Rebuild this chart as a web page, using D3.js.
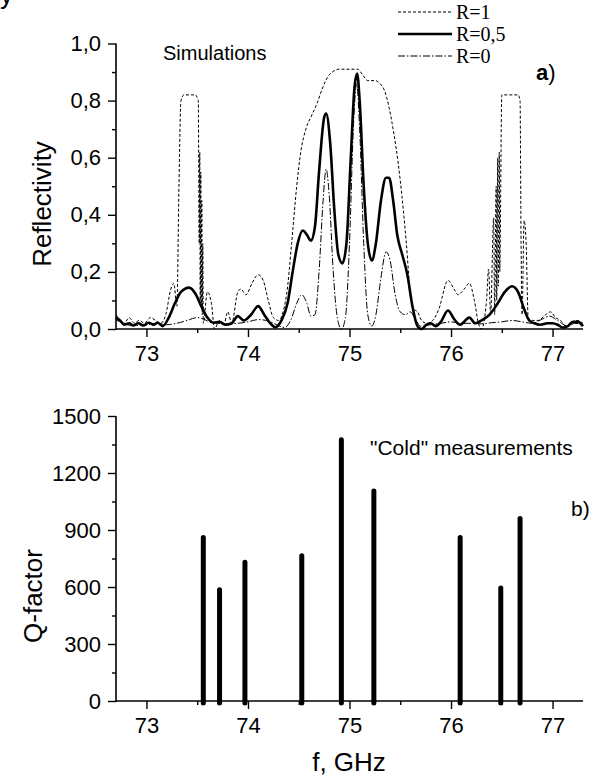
<!DOCTYPE html>
<html>
<head>
<meta charset="utf-8">
<script src="https://cdn.jsdelivr.net/npm/d3@7"></script>
<style>
  body { margin: 0; background: #fff; }
  text { font-family: "Liberation Sans", Arial, sans-serif; fill: #000; }
  .legend text { font-family: "Liberation Serif", "Times New Roman", serif; }
</style>
</head>
<body>
<svg id="chart"></svg>
<script>
// simulated reflectivity, [f GHz, R]
const r1 = [
  [72.70,0.05],[72.74,0.03],[72.78,0.02],[72.83,0.04],[72.88,0.02],[72.93,0.03],[72.98,0.02],
  [73.04,0.04],[73.09,0.03],[73.14,0.02],[73.19,0.05],[73.24,0.14],[73.27,0.16],[73.30,0.08],
  [73.32,0.5],[73.34,0.8],[73.37,0.82],[73.48,0.82],[73.51,0.8],[73.52,0.3],[73.525,0.62],
  [73.53,0.1],[73.535,0.55],[73.54,0.08],[73.545,0.45],[73.55,0.05],[73.555,0.3],[73.56,0.02],
  [73.6,0.13],[73.64,0.09],[73.67,0.0],[73.72,0.03],[73.76,0.01],[73.8,0.06],[73.84,0.02],
  [73.9,0.13],[73.93,0.14],[73.98,0.12],[74.04,0.16],[74.1,0.19],[74.15,0.17],[74.2,0.1],
  [74.25,0.04],[74.3,0.03],[74.38,0.12],[74.43,0.3],[74.48,0.5],[74.52,0.62],[74.57,0.7],
  [74.63,0.75],[74.68,0.79],[74.73,0.84],[74.8,0.89],[74.9,0.91],[75.0,0.91],[75.08,0.91],
  [75.13,0.89],[75.18,0.87],[75.25,0.87],[75.3,0.86],[75.35,0.83],[75.42,0.72],[75.5,0.52],
  [75.56,0.3],[75.6,0.12],[75.63,0.07],[75.67,0.06],[75.71,0.03],[75.76,0.02],[75.82,0.03],
  [75.88,0.07],[75.97,0.17],[76.03,0.14],[76.07,0.12],[76.13,0.14],[76.18,0.16],[76.23,0.1],
  [76.27,0.02],[76.3,0.0],[76.35,0.1],[76.37,0.21],[76.39,0.05],[76.42,0.39],[76.43,0.05],
  [76.445,0.5],[76.45,0.1],[76.46,0.6],[76.465,0.15],[76.475,0.62],[76.48,0.2],[76.5,0.82],
  [76.52,0.82],[76.66,0.82],[76.68,0.8],[76.69,0.3],[76.7,0.05],[76.72,0.38],[76.74,0.3],
  [76.76,0.04],[76.8,0.03],[76.86,0.03],[76.93,0.05],[76.98,0.06],[77.03,0.04],[77.08,0.03],
  [77.13,0.01],[77.18,0.02],[77.24,0.03],[77.3,0.02]
];
const r05 = [
  [72.70,0.04],[72.74,0.03],[72.78,0.015],[72.83,0.02],[72.87,0.012],[72.92,0.02],[72.97,0.012],
  [73.02,0.022],[73.07,0.015],[73.11,0.022],[73.16,0.01],[73.22,0.04],[73.28,0.09],[73.34,0.13],
  [73.42,0.145],[73.48,0.125],[73.54,0.08],[73.6,0.04],[73.66,0.022],[73.72,0.025],[73.78,0.015],
  [73.84,0.02],[73.9,0.045],[73.96,0.03],[74.03,0.05],[74.1,0.08],[74.16,0.05],[74.22,0.02],
  [74.27,0.006],[74.33,0.03],[74.39,0.09],[74.44,0.2],[74.49,0.3],[74.54,0.345],[74.58,0.33],
  [74.62,0.31],[74.66,0.36],[74.7,0.55],[74.75,0.74],[74.77,0.755],[74.81,0.65],[74.85,0.42],
  [74.89,0.26],[74.93,0.23],[74.97,0.3],[75.01,0.58],[75.05,0.85],[75.075,0.895],[75.1,0.8],
  [75.14,0.5],[75.18,0.3],[75.22,0.24],[75.26,0.3],[75.31,0.45],[75.36,0.53],[75.39,0.53],
  [75.43,0.45],[75.47,0.33],[75.52,0.26],[75.57,0.19],[75.62,0.08],[75.67,0.01],[75.71,0.0],
  [75.76,0.015],[75.8,0.02],[75.85,0.01],[75.9,0.025],[75.97,0.065],[76.03,0.035],[76.09,0.015],
  [76.18,0.04],[76.24,0.02],[76.3,0.03],[76.38,0.05],[76.46,0.09],[76.53,0.13],[76.6,0.15],
  [76.66,0.13],[76.72,0.07],[76.77,0.03],[76.82,0.02],[76.88,0.015],[76.95,0.02],[77.0,0.02],
  [77.05,0.015],[77.1,0.005],[77.15,0.01],[77.2,0.025],[77.25,0.025],[77.3,0.01]
];
const r0 = [
  [72.70,0.03],[72.75,0.025],[72.8,0.015],[72.9,0.012],[73.0,0.015],[73.1,0.02],[73.2,0.015],
  [73.3,0.02],[73.4,0.03],[73.5,0.04],[73.56,0.035],[73.62,0.025],[73.7,0.02],[73.8,0.018],
  [73.9,0.02],[74.0,0.025],[74.1,0.033],[74.2,0.028],[74.3,0.012],[74.36,0.005],[74.42,0.03],
  [74.48,0.09],[74.53,0.12],[74.58,0.09],[74.62,0.045],[74.66,0.05],[74.7,0.2],[74.74,0.45],
  [74.77,0.56],[74.8,0.47],[74.84,0.2],[74.88,0.04],[74.92,0.0],[74.96,0.04],[75.0,0.3],
  [75.04,0.72],[75.07,0.86],[75.1,0.7],[75.14,0.3],[75.18,0.05],[75.22,0.01],[75.26,0.05],
  [75.31,0.18],[75.36,0.27],[75.4,0.24],[75.45,0.12],[75.5,0.06],[75.55,0.05],[75.6,0.06],
  [75.64,0.04],[75.7,0.01],[75.8,0.015],[75.9,0.02],[76.0,0.025],[76.1,0.02],[76.2,0.02],
  [76.3,0.018],[76.4,0.022],[76.5,0.025],[76.6,0.03],[76.7,0.025],[76.8,0.02],[76.9,0.035],
  [76.97,0.045],[77.05,0.03],[77.15,0.01],[77.22,0.02],[77.3,0.015]
];
const legendLabels = ["R=1", "R=0,5", "R=0"];

// "cold" measurements
const qFreq = [73.56, 73.72, 73.97, 74.53, 74.92, 75.24, 76.09, 76.49, 76.68];
const qVal = [860, 585, 730, 765, 1375, 1105, 860, 595, 960];

const xTicks = [73, 74, 75, 76, 77];
const xMinor = [73.5, 74.5, 75.5, 76.5];
const rTicks = [0, 0.2, 0.4, 0.6, 0.8, 1.0];
const rMinor = [0.1, 0.3, 0.5, 0.7, 0.9];
const qTicks = [0, 300, 600, 900, 1200, 1500];
const qMinor = [150, 450, 750, 1050, 1350];

const width = 595, height = 778;
const svg = d3.select("#chart").attr("width", width).attr("height", height);

const x = d3.scaleLinear().domain([72.7, 77.3]).range([116, 583]);
const yR = d3.scaleLinear().domain([0, 1]).range([329, 43.5]);
const yQ = d3.scaleLinear().domain([0, 1500]).range([701, 416]);

const fmt = d3.format(".1f");

function axes(y, yTicks, yMinor, yFmt) {
    const g = svg.append("g");
    const y0 = y.range()[0];
    g.append("g").attr("transform", `translate(0,${y0})`)
        .call(d3.axisBottom(x).tickValues(xMinor).tickSize(4).tickSizeOuter(0).tickFormat(""));
    g.append("g").attr("transform", `translate(116,0)`)
        .call(d3.axisLeft(y).tickValues(yMinor).tickSize(4).tickSizeOuter(0).tickFormat(""));
    g.append("g").attr("transform", `translate(0,${y0})`)
        .call(d3.axisBottom(x).tickValues(xTicks).tickSize(8).tickPadding(8).tickFormat(d3.format("d")));
    g.append("g").attr("transform", `translate(116,0)`)
        .call(d3.axisLeft(y).tickValues(yTicks).tickSize(8).tickPadding(7).tickFormat(yFmt));
    g.selectAll("path.domain").remove();
    g.selectAll(".tick line").attr("stroke-width", 1.4);
    g.selectAll(".tick text").style("font-size", "22px").style("font-family", '"Liberation Sans", Arial, sans-serif');
    // plain axis lines, no end caps
    g.append("line").attr("x1", 116).attr("x2", 116)
        .attr("y1", y.range()[1]).attr("y2", y0 + 0.8)
        .attr("stroke", "#000").attr("stroke-width", 1.6);
    g.append("line").attr("x1", 116).attr("x2", x.range()[1])
        .attr("y1", y0).attr("y2", y0)
        .attr("stroke", "#000").attr("stroke-width", 1.6);
}

// --- panel a ---
axes(yR, rTicks, rMinor, d => fmt(d).replace(".", ","));

const line = d3.line().x(d => x(d[0])).y(d => yR(d[1])).curve(d3.curveMonotoneX);
const series = [
    { data: r1, dash: "3,2", w: 1 },
    { data: r05, dash: null, w: 2.6 },
    { data: r0, dash: "7,2,1.5,2", w: 1 }
];
svg.append("g").selectAll("path").data(series).enter().append("path")
    .attr("d", d => line(d.data))
    .attr("fill", "none")
    .attr("stroke", "#000")
    .attr("stroke-width", d => d.w)
    .attr("stroke-dasharray", d => d.dash);

const legend = svg.append("g").attr("class", "legend");
legendLabels.forEach((t, i) => {
    const yy = 12 + i * 22;
    legend.append("line")
        .attr("x1", 398).attr("x2", 452).attr("y1", yy).attr("y2", yy)
        .attr("stroke", "#000")
        .attr("stroke-width", series[i].w)
        .attr("stroke-dasharray", series[i].dash);
    legend.append("text").attr("x", 456).attr("y", yy + 7)
        .style("font-size", "20px").text(t);
});

svg.append("text").attr("x", 163).attr("y", 60).style("font-size", "20px").text("Simulations");
const lab = svg.append("text").attr("x", 536).attr("y", 80).style("font-size", "22px");
lab.append("tspan").style("font-weight", "bold").text("a");
lab.append("tspan").text(")");

svg.append("text")
    .attr("transform", "translate(51,204) rotate(-90)")
    .attr("text-anchor", "middle")
    .style("font-size", "26px")
    .text("Reflectivity");

// stray glyph cropped at the top edge of the figure
svg.append("text").attr("x", 0).attr("y", 4).style("font-size", "26px").text("y");

// --- panel b ---
axes(yQ, qTicks, qMinor, d3.format("d"));

svg.append("g").selectAll("line").data(qFreq).enter().append("line")
    .attr("x1", d => x(d)).attr("x2", d => x(d))
    .attr("y1", yQ(0) + 2)
    .attr("y2", (d, i) => yQ(qVal[i]))
    .attr("stroke", "#000")
    .attr("stroke-width", 5)
    .attr("stroke-linecap", "round");

svg.append("text").attr("x", 370).attr("y", 455).style("font-size", "21px").text('"Cold" measurements');
svg.append("text").attr("x", 571).attr("y", 516).style("font-size", "21px").text("b)");

svg.append("text")
    .attr("transform", "translate(42,596) rotate(-90)")
    .attr("text-anchor", "middle")
    .style("font-size", "26px")
    .text("Q-factor");

svg.append("text").attr("x", 349).attr("y", 771)
    .attr("text-anchor", "middle")
    .style("font-size", "26px")
    .text("f, GHz");
</script>
</body>
</html>
